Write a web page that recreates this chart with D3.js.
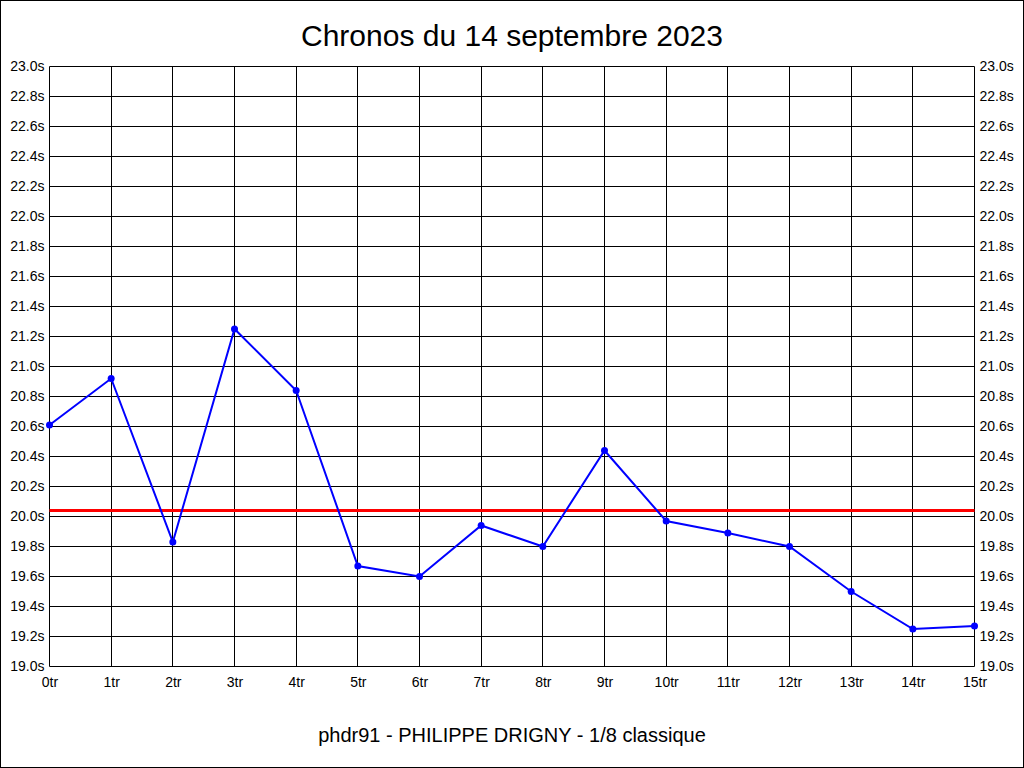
<!doctype html>
<html>
<head>
<style>
    body { margin: 0; background: #fff; }
    text { font-family: "Liberation Sans", Arial, sans-serif; }
</style>
<script src="https://d3js.org/d3.v7.min.js"></script>
</head>
<body>
<svg width="1024" height="768"></svg>
<script>
    // tours and chronos (seconds)
    var laps = d3.range(0, 16)
    var times = [20.61, 20.92, 19.83, 21.25, 20.84, 19.67, 19.60, 19.94, 19.80, 20.44, 19.97, 19.89, 19.80, 19.50, 19.25, 19.27]
    var average = 20.04
    var yTicks = d3.range(0, 21).map(function(i) { return 19 + i * 0.2 })
    var title = "Chronos du 14 septembre 2023"
    var footer = "phdr91 - PHILIPPE DRIGNY - 1/8 classique"

    var svg = d3.select("svg")
    var plotLeft = 49.5, plotRight = 974.5, plotTop = 66.5, plotBottom = 666.5

    svg.append("rect")
       .attr("x", 0.5).attr("y", 0.5)
       .attr("width", 1023).attr("height", 767)
       .attr("fill", "#fff").attr("stroke", "#000")

    var x = d3.scaleLinear().domain([0, 15]).range([plotLeft, plotRight])
    var y = d3.scaleLinear().domain([19, 23]).range([plotBottom, plotTop])

    // grid
    svg.append("g").selectAll("line")
       .data(yTicks)
       .enter().append("line")
       .attr("x1", plotLeft).attr("x2", plotRight)
       .attr("y1", function(d) { return Math.round(y(d) - 0.5) + 0.5 })
       .attr("y2", function(d) { return Math.round(y(d) - 0.5) + 0.5 })
       .attr("stroke", "#000")

    svg.append("g").selectAll("line")
       .data(laps)
       .enter().append("line")
       .attr("y1", plotTop).attr("y2", plotBottom)
       .attr("x1", function(d) { return Math.round(x(d) - 0.5) + 0.5 })
       .attr("x2", function(d) { return Math.round(x(d) - 0.5) + 0.5 })
       .attr("stroke", "#000")

    // axes labels
    var yFmt = function(d) { return d.toFixed(1) + "s" }
    var axL = d3.axisLeft(y).tickValues(yTicks).tickFormat(yFmt).tickSize(0).tickPadding(5)
    var axR = d3.axisRight(y).tickValues(yTicks).tickFormat(yFmt).tickSize(0).tickPadding(5)
    var axB = d3.axisBottom(x).tickValues(laps).tickFormat(function(d) { return d + "tr" }).tickSize(0).tickPadding(11)

    svg.append("g").attr("transform", "translate(" + plotLeft + ",0)").call(axL)
    svg.append("g").attr("transform", "translate(" + plotRight + ",0)").call(axR)
    svg.append("g").attr("transform", "translate(0," + plotBottom + ")").call(axB)

    svg.selectAll(".domain").remove()
    svg.selectAll(".tick text")
       .attr("font-family", "'Liberation Sans', Arial, sans-serif")
       .attr("font-size", "14px")
       .attr("fill", "#000")

    // average line
    svg.append("line")
       .attr("x1", plotLeft).attr("x2", plotRight)
       .attr("y1", y(average)).attr("y2", y(average))
       .attr("stroke", "#ff0000")
       .attr("stroke-width", 3)

    // chronos
    var line = d3.line()
                 .x(function(d, i) { return x(laps[i]) })
                 .y(function(d) { return y(d) })

    svg.append("path")
       .datum(times)
       .attr("d", line)
       .attr("fill", "none")
       .attr("stroke", "#0000ff")
       .attr("stroke-width", 2)

    svg.append("g").selectAll("circle")
       .data(times)
       .enter().append("circle")
       .attr("cx", function(d, i) { return x(laps[i]) })
       .attr("cy", function(d) { return y(d) })
       .attr("r", 3.5)
       .attr("fill", "#0000ff")

    svg.append("text")
       .attr("x", 512).attr("y", 46)
       .attr("text-anchor", "middle")
       .attr("font-size", "30px")
       .text(title)

    svg.append("text")
       .attr("x", 512).attr("y", 742)
       .attr("text-anchor", "middle")
       .attr("font-size", "20px")
       .text(footer)
</script>
</body>
</html>
